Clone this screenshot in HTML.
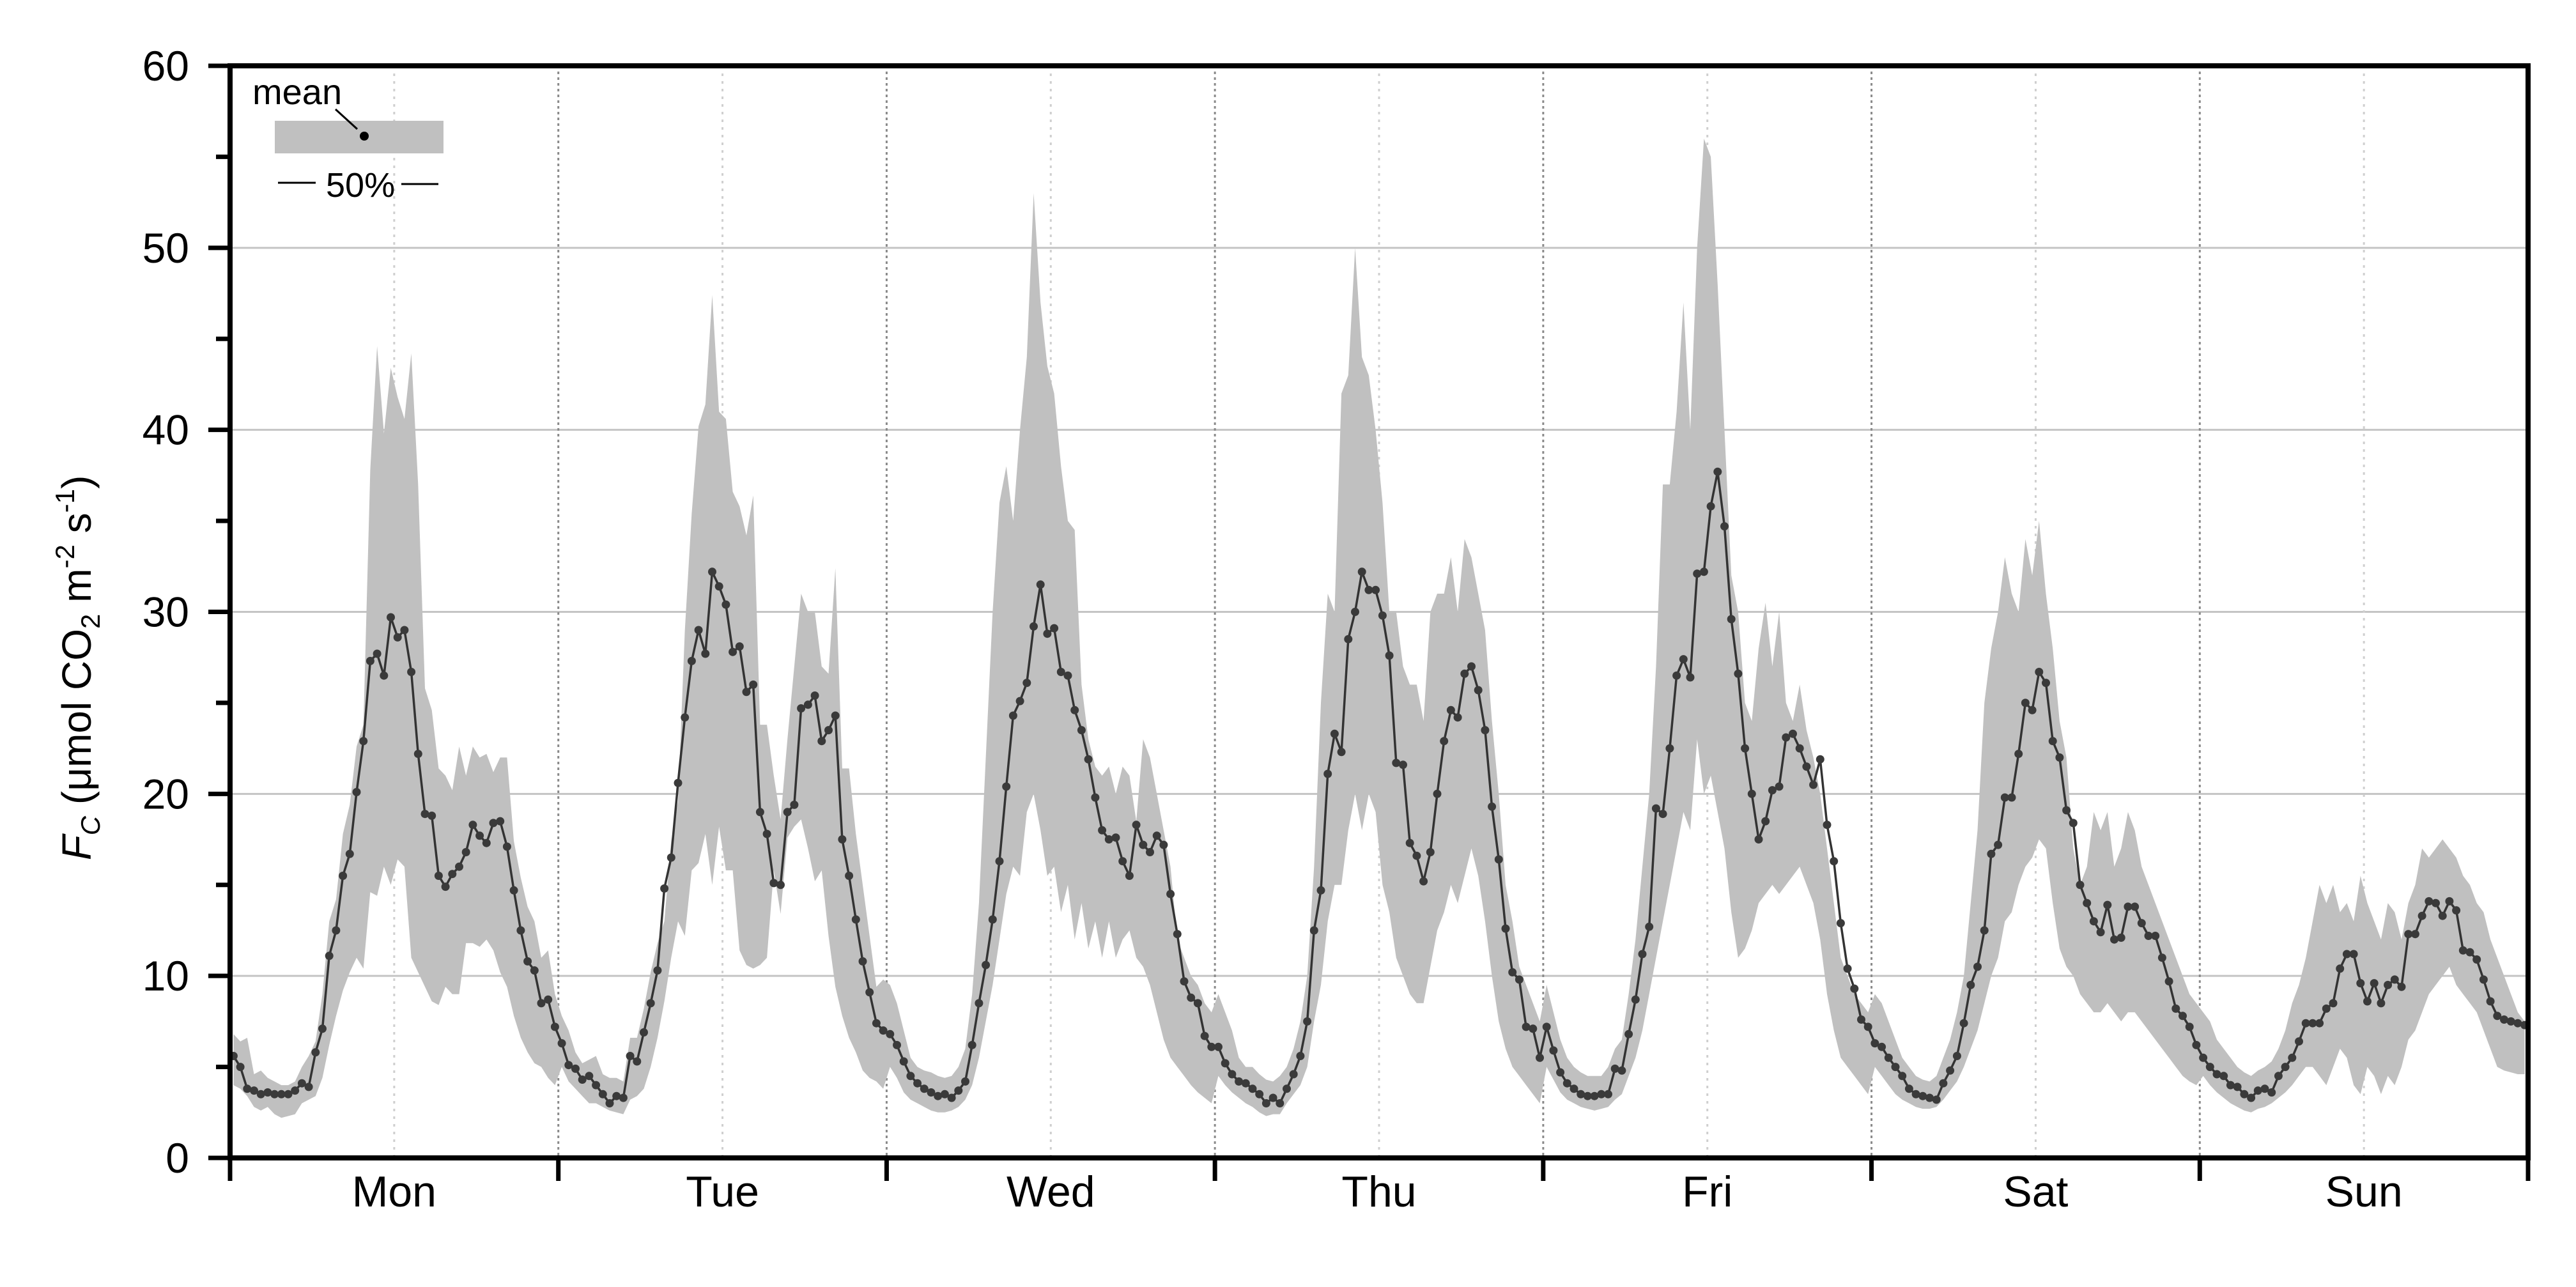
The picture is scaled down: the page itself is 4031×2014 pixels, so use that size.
<!DOCTYPE html>
<html><head><meta charset="utf-8"><style>
html,body{margin:0;padding:0;background:#fff;}
svg{display:block;font-family:"Liberation Sans",Arial,sans-serif;}
</style></head><body>
<svg id="chart" width="4031" height="2014" viewBox="0 0 4031 2014" xmlns="http://www.w3.org/2000/svg">
<g id="grid"></g>
<g id="band"></g>
<g id="meanline"></g>
<g id="axes"></g>
<g>
  <text x="395" y="163" font-size="56" fill="#000">mean</text>
  <rect x="430" y="189" width="264" height="51" fill="#c0c0c0"/>
  <line x1="525" y1="171" x2="559" y2="202" stroke="#000" stroke-width="3"/>
  <circle cx="570" cy="213" r="7" fill="#000"/>
  <line x1="435" y1="286" x2="494" y2="286" stroke="#000" stroke-width="3"/>
  <text x="510" y="308" font-size="54" fill="#000">50%</text>
  <line x1="628" y1="288" x2="686" y2="288" stroke="#000" stroke-width="3"/>
</g>
<text transform="translate(142,1045) rotate(-90)" text-anchor="middle" font-size="64" fill="#000"><tspan font-style="italic">F</tspan><tspan font-style="italic" font-size="42" dy="14">C</tspan><tspan dy="-14">  (μmol CO</tspan><tspan font-size="42" dy="14">2</tspan><tspan dy="-14"> m</tspan><tspan font-size="42" dy="-26">-2</tspan><tspan dy="26"> s</tspan><tspan font-size="42" dy="-26">-1</tspan><tspan dy="26">)</tspan></text>
</svg>
<script>
const days = ["Mon","Tue","Wed","Thu","Fri","Sat","Sun"];
const yTicks = [0,10,20,30,40,50,60];
const meanMon = [5.6,5.0,3.8,3.7,3.5,3.6,3.5,3.5,3.5,3.7,4.1,3.9,5.8,7.1,11.1,12.5,15.5,16.7,20.1,22.9,27.3,27.7,26.5,29.7,28.6,29.0,26.7,22.2,18.9,18.8,15.5,14.9,15.6,16.0,16.8,18.3,17.7,17.3,18.4,18.5,17.1,14.7,12.5,10.8,10.3,8.5,8.7,7.2];
const meanTue = [6.3,5.1,4.9,4.3,4.5,4.0,3.5,3.0,3.4,3.3,5.6,5.3,6.9,8.5,10.3,14.8,16.5,20.6,24.2,27.3,29.0,27.7,32.2,31.4,30.4,27.8,28.1,25.6,26.0,19.0,17.8,15.1,15.0,19.0,19.4,24.7,24.9,25.4,22.9,23.5,24.3,17.5,15.5,13.1,10.8,9.1,7.4,7.0];
const meanWed = [6.8,6.2,5.3,4.5,4.1,3.8,3.6,3.4,3.5,3.3,3.7,4.2,6.2,8.5,10.6,13.1,16.3,20.4,24.3,25.1,26.1,29.2,31.5,28.8,29.1,26.7,26.5,24.6,23.5,21.9,19.8,18.0,17.5,17.6,16.3,15.5,18.3,17.2,16.8,17.7,17.2,14.5,12.3,9.7,8.8,8.5,6.7,6.1];
const meanThu = [6.1,5.2,4.6,4.2,4.1,3.8,3.5,3.0,3.3,3.0,3.8,4.6,5.6,7.5,12.5,14.7,21.1,23.3,22.3,28.5,30.0,32.2,31.2,31.2,29.8,27.6,21.7,21.6,17.3,16.6,15.2,16.8,20.0,22.9,24.6,24.2,26.6,27.0,25.7,23.5,19.3,16.4,12.6,10.2,9.8,7.2,7.1,5.5];
const meanFri = [7.2,5.9,4.7,4.1,3.8,3.5,3.4,3.4,3.5,3.5,4.9,4.8,6.8,8.7,11.2,12.7,19.2,18.9,22.5,26.5,27.4,26.4,32.1,32.2,35.8,37.7,34.7,29.6,26.6,22.5,20.0,17.5,18.5,20.2,20.4,23.1,23.3,22.5,21.5,20.5,21.9,18.3,16.3,12.9,10.4,9.3,7.6,7.2];
const meanSat = [6.3,6.1,5.5,5.0,4.5,3.8,3.5,3.4,3.3,3.2,4.1,4.8,5.6,7.4,9.5,10.5,12.5,16.7,17.2,19.8,19.8,22.2,25.0,24.6,26.7,26.1,22.9,22.0,19.1,18.4,15.0,14.0,13.0,12.4,13.9,12.0,12.1,13.8,13.8,12.9,12.2,12.2,11.0,9.7,8.2,7.8,7.2,6.2];
const meanSun = [5.5,5.0,4.6,4.5,4.0,3.9,3.5,3.3,3.7,3.8,3.6,4.5,5.0,5.5,6.4,7.4,7.4,7.4,8.2,8.5,10.4,11.2,11.2,9.6,8.6,9.6,8.5,9.5,9.8,9.4,12.3,12.3,13.3,14.1,14.0,13.3,14.1,13.6,11.4,11.3,10.9,9.8,8.6,7.8,7.6,7.5,7.4,7.3];
const upMon = [6.8,6.4,6.6,4.6,4.8,4.4,4.2,4.0,4.0,4.2,5.0,5.6,6.4,9.0,13.0,14.2,17.8,19.4,22.6,23.8,37.8,44.6,39.8,43.4,41.8,40.6,44.2,37.0,25.8,24.6,21.4,21.0,20.2,22.6,21.0,22.6,22.0,22.2,21.2,22.0,22.0,17.4,15.4,13.8,13.0,11.0,11.4,9.0];
const upTue = [7.8,7.0,5.8,5.2,5.4,5.6,4.6,4.4,4.4,4.2,6.6,6.6,8.2,10.2,11.8,13.0,17.4,19.6,29.0,35.4,40.2,41.4,47.4,41.0,40.6,36.6,35.8,34.2,36.4,23.8,23.8,21.0,18.6,23.0,27.0,31.0,30.0,30.0,27.0,26.6,32.4,21.4,21.4,17.8,15.0,12.2,9.4,9.8];
const upWed = [9.5,8.5,7.0,5.5,5.0,4.8,4.7,4.5,4.4,4.5,5.0,6.0,9.0,14.0,22.0,30.0,36.0,38.0,35.0,40.0,44.0,53.0,47.0,43.5,42.0,38.0,35.0,34.5,26.0,23.0,21.5,21.0,21.5,20.0,21.5,21.0,18.5,23.0,22.0,20.0,18.0,16.0,12.0,11.0,10.0,9.5,8.5,8.0];
const upThu = [9.0,8.0,7.0,5.5,5.0,5.0,4.6,4.3,4.2,4.5,5.0,6.0,7.5,10.0,16.0,25.0,31.0,30.0,42.0,43.0,50.0,44.0,43.0,40.0,36.0,30.0,30.0,27.0,26.0,26.0,24.0,30.0,31.0,31.0,33.0,30.0,34.0,33.0,31.0,29.0,24.0,20.0,15.0,13.0,10.5,9.5,8.5,7.5];
const upFri = [9.5,8.0,6.5,5.5,5.0,4.7,4.5,4.5,4.5,5.0,6.0,6.5,9.0,12.0,16.0,20.0,27.0,37.0,37.0,41.0,47.0,40.0,50.0,56.0,55.0,48.0,40.0,32.0,30.0,25.0,24.0,28.0,30.5,27.0,30.0,25.0,24.0,26.0,23.5,22.0,20.0,17.0,14.0,11.0,10.0,9.0,8.5,8.0];
const upSat = [9.0,8.5,7.5,6.5,5.5,5.0,4.5,4.3,4.2,4.5,5.5,6.5,8.0,10.0,14.0,18.0,25.0,28.0,30.0,33.0,31.0,30.0,34.0,32.0,35.0,31.0,28.0,24.0,22.0,17.0,15.0,16.0,19.0,18.0,19.0,16.0,17.0,19.0,18.0,16.0,15.0,14.0,13.0,12.0,11.0,10.0,9.0,8.5];
const upSun = [8.0,7.5,6.5,6.0,5.5,5.0,4.7,4.5,4.8,5.0,5.3,6.0,7.0,8.5,9.5,11.0,13.0,15.0,14.0,15.0,13.5,14.0,13.0,15.5,14.0,13.0,12.0,14.0,13.5,12.0,14.0,15.0,17.0,16.5,17.0,17.5,17.0,16.5,15.5,15.0,14.0,13.5,12.0,11.0,10.0,9.0,8.0,7.5];
const loMon = [4.0,3.8,3.4,2.8,2.6,2.8,2.4,2.2,2.3,2.4,3.0,3.2,3.4,4.4,6.2,7.8,9.2,10.2,11.0,10.4,14.6,14.4,16.0,15.0,16.4,16.0,11.0,10.2,9.4,8.6,8.4,9.4,9.0,9.0,11.8,11.8,11.6,12.0,11.4,10.2,9.4,7.8,6.6,5.8,5.2,5.0,4.4,4.0];
const loTue = [5.0,4.2,3.8,3.4,3.0,3.0,2.8,2.6,2.5,2.4,3.2,3.4,3.8,5.0,6.6,8.6,11.0,13.0,12.2,15.8,16.2,17.8,15.0,18.2,15.8,15.8,11.4,10.6,10.4,10.6,11.0,15.8,13.4,17.6,18.2,18.6,17.0,15.2,15.8,12.2,9.4,7.8,6.6,5.8,4.8,4.4,4.2,3.8];
const loWed = [5.0,4.4,3.6,3.2,3.0,2.8,2.6,2.5,2.5,2.6,2.8,3.2,4.0,5.5,7.5,9.5,12.0,14.5,16.0,15.5,19.0,20.0,18.0,15.5,16.0,13.5,15.0,12.0,14.0,11.5,13.0,11.0,13.0,11.0,12.0,12.5,11.0,10.5,9.5,8.0,6.5,5.5,5.0,4.5,4.0,3.6,3.3,3.0];
const loThu = [4.5,4.0,3.6,3.3,3.0,2.8,2.5,2.3,2.4,2.4,3.0,3.5,4.0,5.0,7.5,9.5,13.0,15.0,15.0,18.0,20.0,18.0,20.0,19.0,15.0,13.5,11.0,10.0,9.0,8.5,8.5,10.5,12.5,13.5,15.0,14.0,15.5,17.0,15.5,13.0,10.0,7.5,6.0,5.0,4.5,4.0,3.5,3.0];
const loFri = [5.0,4.3,3.6,3.2,3.0,2.8,2.7,2.6,2.7,2.8,3.2,3.5,4.5,5.5,7.0,9.0,11.0,13.0,15.0,17.0,19.0,18.0,23.0,20.0,21.0,19.0,17.0,13.5,11.0,11.5,12.5,14.0,14.5,15.0,14.5,15.0,15.5,16.0,15.0,14.0,12.0,9.0,7.0,5.5,5.0,4.5,4.0,3.5];
const loSat = [5.0,4.5,4.0,3.5,3.2,3.0,2.8,2.7,2.7,2.8,3.2,3.7,4.2,5.0,6.0,7.0,8.5,10.0,11.0,13.0,13.5,15.0,16.0,16.5,17.5,17.0,14.0,11.5,10.5,10.0,9.0,8.5,8.0,8.0,8.5,8.0,7.5,8.0,8.0,7.5,7.0,6.5,6.0,5.5,5.0,4.5,4.2,4.0];
const loSun = [4.5,4.0,3.6,3.3,3.0,2.8,2.6,2.5,2.7,2.8,3.0,3.3,3.6,4.0,4.5,5.0,5.0,4.5,4.0,5.0,6.0,5.5,4.0,3.5,5.0,4.5,3.5,4.5,4.0,5.0,6.5,7.0,8.0,9.0,9.5,10.0,10.5,9.5,9.0,8.5,8.0,7.0,6.0,5.0,4.8,4.7,4.6,4.6];

const meanAll = [].concat(meanMon,meanTue,meanWed,meanThu,meanFri,meanSat,meanSun);
const upAll = [].concat(upMon,upTue,upWed,upThu,upFri,upSat,upSun);
const loAll = [].concat(loMon,loTue,loWed,loThu,loFri,loSat,loSun);

const NS = "http://www.w3.org/2000/svg";
const L = 360, R = 3956, T = 103, B = 1812;
const yMax = 60;
const perDay = 48;
const nPts = days.length * perDay;
function xScale(i){ return L + (i + 0.5) * (R - L) / nPts; }
function yScale(v){ return B - v / yMax * (B - T); }
function mk(tag, attrs, parent){ const e = document.createElementNS(NS, tag); for (const k in attrs) e.setAttribute(k, attrs[k]); parent.appendChild(e); return e; }

const grid = document.getElementById('grid');
yTicks.forEach(function(v){
  if (v === 0 || v === yMax) return;
  const g = mk('line', {x1:L, x2:R, y1:yScale(v), y2:yScale(v), stroke:'#c4c4c4', 'stroke-width':3}, grid);
  
  
});
const dayW = (R - L) / days.length;
days.forEach(function(d, k){
  if (k > 0) {
    const v = mk('line', {x1:L + k*dayW, x2:L + k*dayW, y1:T, y2:B, stroke:'#8a8a8a', 'stroke-width':3, 'stroke-dasharray':'4 5'}, grid);
    
    
  }
  const m = mk('line', {x1:L + (k+0.5)*dayW, x2:L + (k+0.5)*dayW, y1:T, y2:B, stroke:'#cfcfcf', 'stroke-width':3, 'stroke-dasharray':'4 8'}, grid);
  
  
});

const band = document.getElementById('band');
let pts = [];
for (let i = 0; i < nPts; i++) pts.push(xScale(i).toFixed(1) + ',' + yScale(upAll[i]).toFixed(1));
for (let i = nPts - 1; i >= 0; i--) pts.push(xScale(i).toFixed(1) + ',' + yScale(loAll[i]).toFixed(1));
const poly = mk('polygon', {points: pts.join(' '), fill:'#c0c0c0'}, band);



const ml = document.getElementById('meanline');
let lp = [];
for (let i = 0; i < nPts; i++) lp.push(xScale(i).toFixed(1) + ',' + yScale(meanAll[i]).toFixed(1));
const pl = mk('polyline', {points: lp.join(' '), fill:'none', stroke:'#333', 'stroke-width':3.5}, ml);


for (let i = 0; i < nPts; i++) {
  const c = mk('circle', {cx: xScale(i).toFixed(1), cy: yScale(meanAll[i]).toFixed(1), r: 6.5, fill:'#3a3a3a'}, ml);
  
  
}

const ax = document.getElementById('axes');
const frame = mk('rect', {x:L, y:T, width:R-L, height:B-T, fill:'none', stroke:'#000', 'stroke-width':8}, ax);


yTicks.forEach(function(v){
  const t = mk('line', {x1:L-34, x2:L, y1:yScale(v), y2:yScale(v), stroke:'#000', 'stroke-width':7}, ax);
  
  
  const lbl = mk('text', {x:296, y:yScale(v) + 23, 'text-anchor':'end', 'font-size':66, fill:'#000'}, ax);
  lbl.textContent = v;
  
  
  if (v < yMax) {
    const mt = mk('line', {x1:L-22, x2:L, y1:yScale(v+5), y2:yScale(v+5), stroke:'#000', 'stroke-width':7}, ax);
    
    
  }
});
for (let k = 0; k <= days.length; k++) {
  const t = mk('line', {x1:L + k*dayW, x2:L + k*dayW, y1:B, y2:B + 36, stroke:'#000', 'stroke-width':7}, ax);
  
  
}
days.forEach(function(d, k){
  const lbl = mk('text', {x:L + (k+0.5)*dayW, y:1888, 'text-anchor':'middle', 'font-size':68, fill:'#000'}, ax);
  lbl.textContent = d;
  
  
});
</script>
</body></html>
